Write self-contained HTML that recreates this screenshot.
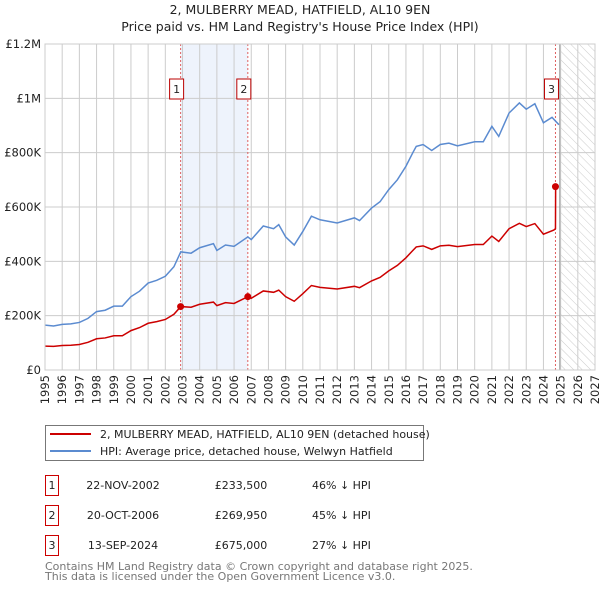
<!DOCTYPE html>
<html><head><meta charset="utf-8"><style>
body{margin:0;background:#fff;font-family:"DejaVu Sans","Liberation Sans",sans-serif;}
#wrap{position:relative;width:600px;height:590px;overflow:hidden;}
svg text{font-family:"DejaVu Sans","Liberation Sans",sans-serif;}
</style></head><body><div id="wrap">
<svg id="chart" width="600" height="590"></svg>
</div>
<script>
const years=[1995,1995.5,1996,1996.5,1997,1997.5,1998,1998.5,1999,1999.5,2000,2000.5,2001,2001.5,2002,2002.5,2002.9,2003.5,2004,2004.8,2005,2005.5,2006,2006.8,2007,2007.7,2008.3,2008.6,2009,2009.5,2010,2010.5,2011,2012,2013,2013.3,2014,2014.5,2015,2015.5,2016,2016.4,2016.6,2017,2017.5,2018,2018.5,2019,2020,2020.5,2021,2021.4,2022,2022.6,2023,2023.5,2024,2024.5,2024.9];
const hpiValues=[165,162,168,170,175,190,215,220,235,235,270,290,320,330,345,380,435,430,450,465,440,460,455,490,480,530,520,535,490,460,510,566,553,541,560,550,596,620,664,700,750,800,823,830,808,830,835,825,840,840,897,860,946,983,960,980,910,930,903];
const priceYears=[1995,1995.5,1996,1996.5,1997,1997.5,1998,1998.5,1999,1999.5,2000,2000.5,2001,2001.5,2002,2002.5,2002.9,2003.5,2004,2004.8,2005,2005.5,2006,2006.8,2007,2007.7,2008.3,2008.6,2009,2009.5,2010,2010.5,2011,2012,2013,2013.3,2014,2014.5,2015,2015.5,2016,2016.4,2016.6,2017,2017.5,2018,2018.5,2019,2020,2020.5,2021,2021.4,2022,2022.6,2023,2023.5,2024,2024.6,2024.7,2024.71];
const priceValues=[88,87,90,91,94,102,115,118,126,126,145,156,172,178,186,205,233.5,231,242,250,237,248,245,270,264,291,286,294,270,253,281,311,304,298,308,303,328,341,365,385,413,440,453,457,444,457,459,454,462,462,493,473,520,540,528,539,500,515,520,675];
const sales=[{n:"1",y:2002.89},{n:"2",y:2006.8},{n:"3",y:2024.7}];
const saleValues=[233.5,269.95,675];
const yTicks=[0,200,400,600,800,1000,1200];
const yTickLabels=["£0","£200K","£400K","£600K","£800K","£1M","£1.2M"];
const xTicks=[1995,1996,1997,1998,1999,2000,2001,2002,2003,2004,2005,2006,2007,2008,2009,2010,2011,2012,2013,2014,2015,2016,2017,2018,2019,2020,2021,2022,2023,2024,2025,2026,2027];

const L=45,R=595,T=44,B=370,ns="http://www.w3.org/2000/svg";
const X=y=>L+(y-1995)/(2027-1995)*(R-L);
const Y=v=>B-v/1200*(B-T);
const svg=document.getElementById('chart');
function mk(tag,attrs,parent){const e=document.createElementNS(ns,tag);for(const k in attrs)e.setAttribute(k,attrs[k]);(parent||svg).appendChild(e);return e;}

// defs hatch
const defs=mk('defs',{});
const pat=mk('pattern',{id:'hatch',width:6,height:6,patternUnits:'userSpaceOnUse',patternTransform:'rotate(-45)'},defs);
mk('line',{x1:0,y1:0,x2:0,y2:6,stroke:'#ccc','stroke-width':1},pat);

let t=mk('text',{x:300,y:14,'text-anchor':'middle','font-size':12.5,fill:'#222'});t.textContent="2, MULBERRY MEAD, HATFIELD, AL10 9EN";

t=mk('text',{x:300,y:31,'text-anchor':'middle','font-size':12.5,fill:'#222'});t.textContent="Price paid vs. HM Land Registry's House Price Index (HPI)";


// shaded region between sale 1 and 2
let r=mk('rect',{x:X(sales[0].y),y:T,width:X(sales[1].y)-X(sales[0].y),height:B-T,fill:'#eef3fc'});

// hatch future
r=mk('rect',{x:X(2024.95),y:T,width:R-X(2024.95),height:B-T,fill:'url(#hatch)'});


// grid
yTicks.forEach((v,i)=>{
 const g=mk('line',{x1:L,x2:R,y1:Y(v),y2:Y(v),stroke:'#ccc','stroke-width':1});
 
 const tx=mk('text',{x:L-4,y:Y(v)+4,'text-anchor':'end','font-size':11.5,fill:'#222'});tx.textContent=yTickLabels[i];
 
});
xTicks.forEach(yr=>{
 const g=mk('line',{x1:X(yr),x2:X(yr),y1:T,y2:B,stroke:'#ccc','stroke-width':1});
 
 const tx=mk('text',{x:0,y:0,'text-anchor':'end','font-size':11.5,fill:'#222',transform:`translate(${X(yr)+4},${B+5}) rotate(-90)`});tx.textContent=yr;
 
});
let vl=mk('line',{x1:X(2024.95),x2:X(2024.95),y1:T,y2:B,stroke:'#999','stroke-width':1});


// sale lines
sales.forEach(s=>{
 const l=mk('line',{x1:X(s.y),x2:X(s.y),y1:T,y2:B,stroke:'#e06060','stroke-width':1,'stroke-dasharray':'2,2'});
 
});

// series
let p=mk('polyline',{points:years.map((y,i)=>X(y)+','+Y(hpiValues[i])).join(' '),fill:'none',stroke:'#5b8bd0','stroke-width':1.5});

p=mk('polyline',{points:priceYears.map((y,i)=>X(y)+','+Y(priceValues[i])).join(' '),fill:'none',stroke:'#cc0000','stroke-width':1.5});

sales.forEach((s,i)=>{
 const c=mk('circle',{cx:X(s.y),cy:Y(saleValues[i]),r:3.5,fill:'#cc0000'});
 
 const bx=mk('rect',{x:X(s.y)-11,y:79,width:14,height:20,fill:'#fff',stroke:'#b00','stroke-width':1});
 
 const tx=mk('text',{x:X(s.y)-4,y:93,'text-anchor':'middle','font-size':11,fill:'#222'});tx.textContent=s.n;
 
});
// border
let bd=mk('rect',{x:L,y:T,width:R-L,height:B-T,fill:'none',stroke:'#ccc'});


// legend
const lg=mk('g',{});
mk('rect',{x:45.5,y:425.5,width:378,height:35,fill:'#fff',stroke:'#777'},lg);
let ll=mk('line',{x1:50,x2:91,y1:434,y2:434,stroke:'#cc0000','stroke-width':2},lg);
t=mk('text',{x:100,y:438,'font-size':11,fill:'#222'},lg);t.textContent="2, MULBERRY MEAD, HATFIELD, AL10 9EN (detached house)";
ll=mk('line',{x1:50,x2:91,y1:451,y2:451,stroke:'#5b8bd0','stroke-width':2},lg);
t=mk('text',{x:100,y:455,'font-size':11,fill:'#222'},lg);t.textContent="HPI: Average price, detached house, Welwyn Hatfield";

// table
const rows=[["1","22-NOV-2002","£233,500","46% ↓ HPI"],["2","20-OCT-2006","£269,950","45% ↓ HPI"],["3","13-SEP-2024","£675,000","27% ↓ HPI"]];
rows.forEach((rw,i)=>{
 const y0=475+i*30;
 const g=mk('g',{});
 mk('rect',{x:45.5,y:y0+0.5,width:13,height:20,fill:'#fff',stroke:'#cc0000'},g);
 let a=mk('text',{x:52,y:y0+14,'text-anchor':'middle','font-size':11,fill:'#222'},g);a.textContent=rw[0];
 a=mk('text',{x:123,y:y0+14,'text-anchor':'middle','font-size':11,fill:'#222'},g);a.textContent=rw[1];
 a=mk('text',{x:241,y:y0+14,'text-anchor':'middle','font-size':11,fill:'#222'},g);a.textContent=rw[2];
 a=mk('text',{x:312,y:y0+14,'font-size':11,fill:'#222'},g);a.textContent=rw[3];
});
t=mk('text',{x:45,y:570,'font-size':11,fill:'#777'});t.textContent="Contains HM Land Registry data © Crown copyright and database right 2025.";
t=mk('text',{x:45,y:580,'font-size':11,fill:'#777'});t.textContent="This data is licensed under the Open Government Licence v3.0.";
</script></body></html>
